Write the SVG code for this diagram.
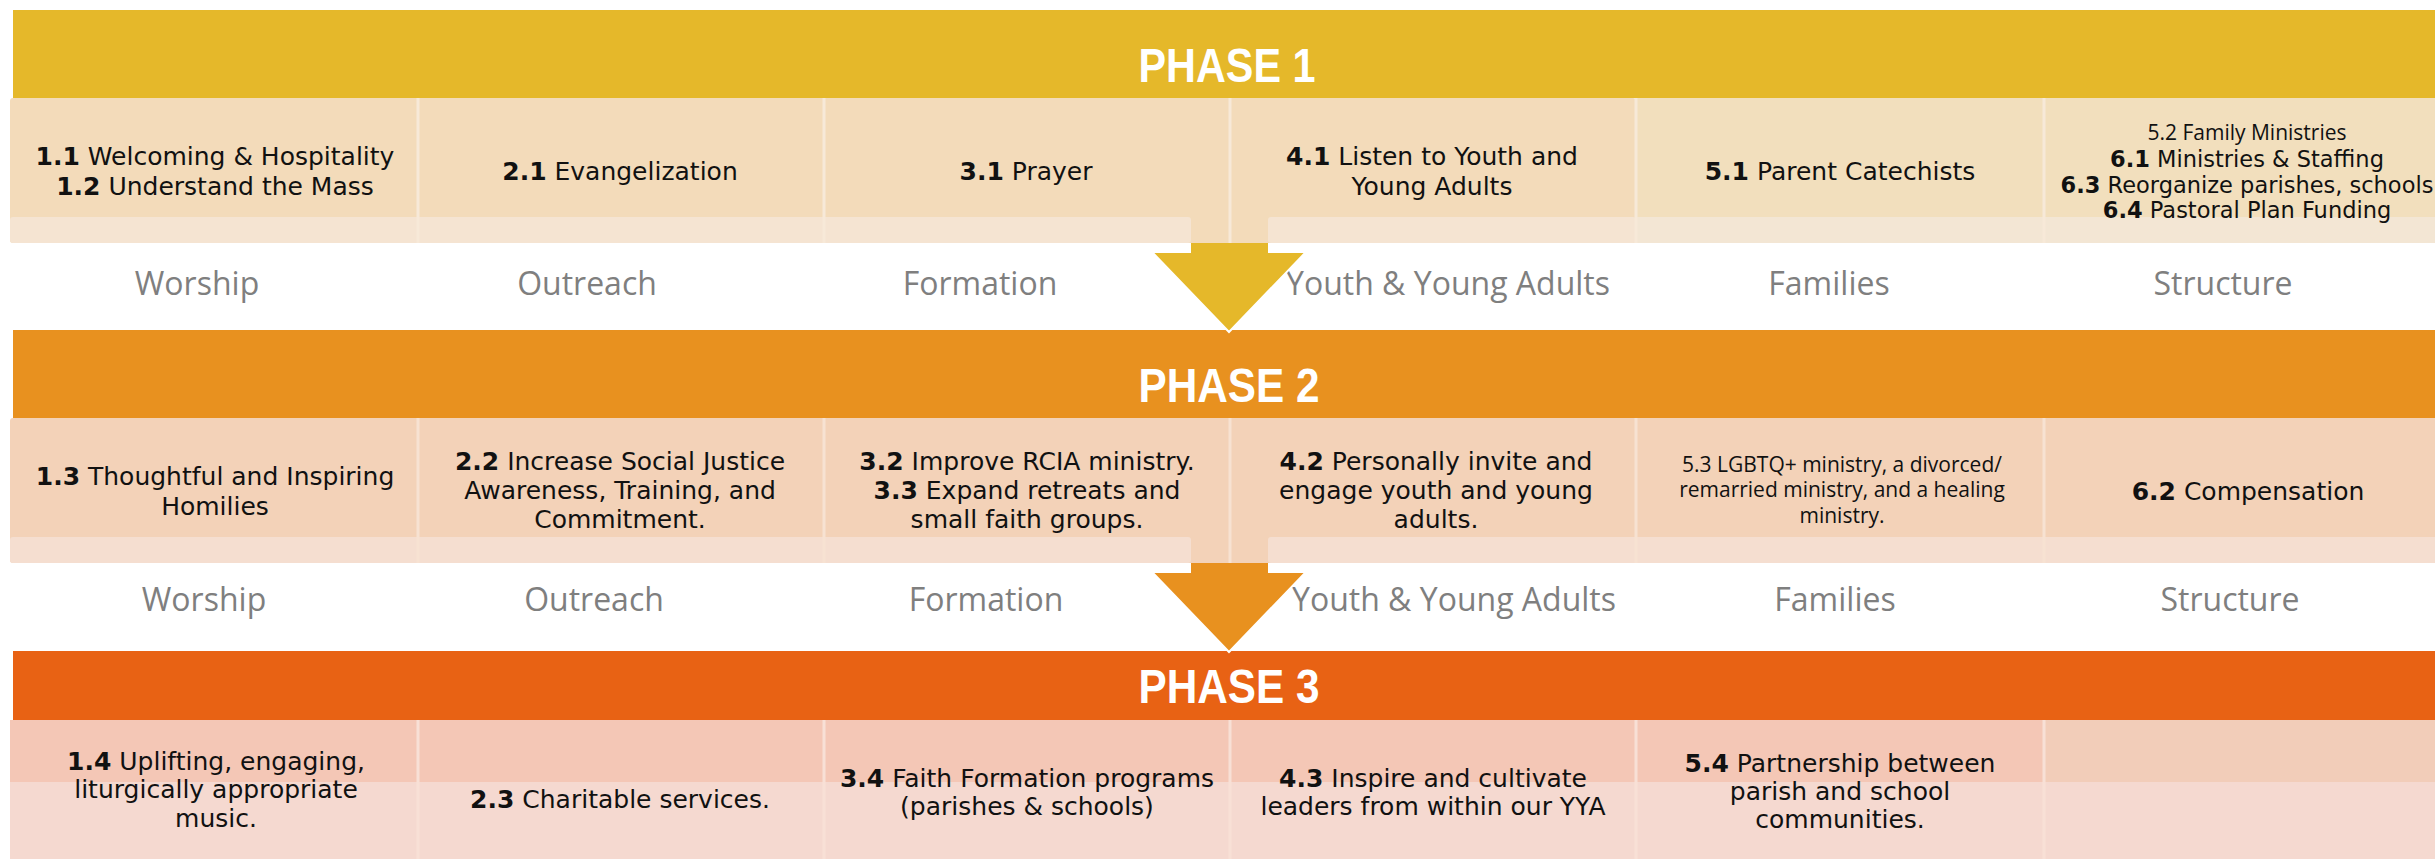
<svg xmlns="http://www.w3.org/2000/svg" width="2435" height="859" viewBox="0 0 2435 859">
<style>
.t{font-family:"DejaVu Sans",sans-serif;font-size:25px;fill:#111;text-anchor:middle}
.s{font-family:"DejaVu Sans",sans-serif;font-size:22.5px;fill:#111;text-anchor:middle}
.o{font-family:"Open Sans",sans-serif;font-size:21px;fill:#111;text-anchor:middle}
.b{font-weight:bold}
.cat{font-family:"Open Sans",sans-serif;font-size:32px;fill:#7f7f7f;text-anchor:middle}
.ph{font-family:"Liberation Sans",sans-serif;font-weight:bold;font-size:48px;fill:#fff;text-anchor:middle}
.div{stroke-width:3}
</style>
<rect width="2435" height="859" fill="#fff"/>

<!-- PHASE 1 -->
<g id="phase1">
  <rect x="13" y="10" width="2440" height="88" fill="#E5B82A"/>
  <text class="ph" x="1227" y="82" textLength="177" lengthAdjust="spacingAndGlyphs">PHASE 1</text>
</g>
<g id="phase1-cells">
  <rect x="10" y="98" width="1626" height="145" rx="3" fill="#F3DBBA"/>
  <rect x="1636" y="98" width="820" height="145" fill="#F2DFBD"/>
  <rect x="10" y="217" width="1181" height="26" rx="3" fill="#F5E4D2"/>
  <rect x="1268" y="217" width="368" height="26" rx="3" fill="#F5E4D2"/>
  <rect x="1636" y="217" width="820" height="26" fill="#F3E6D4"/>
  <g stroke="#F7E9D8" class="div">
    <line x1="418" y1="98" x2="418" y2="243"/><line x1="824" y1="98" x2="824" y2="243"/>
    <line x1="1230" y1="98" x2="1230" y2="243"/><line x1="1636" y1="98" x2="1636" y2="243"/>
    <line x1="2044" y1="98" x2="2044" y2="243"/>
  </g>
</g>
<g id="p1-worship"><text class="t" x="215" y="165"><tspan class="b">1.1</tspan> Welcoming &amp; Hospitality</text><text class="t" x="215" y="195"><tspan class="b">1.2</tspan> Understand the Mass</text></g>
<g id="p1-outreach"><text class="t" x="620" y="180"><tspan class="b">2.1</tspan> Evangelization</text></g>
<g id="p1-formation"><text class="t" x="1026" y="180"><tspan class="b">3.1</tspan> Prayer</text></g>
<g id="p1-youth"><text class="t" x="1432" y="165"><tspan class="b">4.1</tspan> Listen to Youth and</text><text class="t" x="1432" y="195">Young Adults</text></g>
<g id="p1-families"><text class="t" x="1840" y="180"><tspan class="b">5.1</tspan> Parent Catechists</text></g>
<g id="p1-structure">
  <text class="o" x="2247" y="140">5.2 Family Ministries</text>
  <text class="s" x="2247" y="167"><tspan class="b">6.1</tspan> Ministries &amp; Staffing</text>
  <text class="s" x="2247" y="193"><tspan class="b">6.3</tspan> Reorganize parishes, schools</text>
  <text class="s" x="2247" y="218"><tspan class="b">6.4</tspan> Pastoral Plan Funding</text>
</g>
<g id="p1-labels">
  <text class="cat" x="197" y="295">Worship</text>
  <text class="cat" x="587" y="295">Outreach</text>
  <text class="cat" x="980" y="295">Formation</text>
  <text class="cat" x="1448" y="295">Youth &amp; Young Adults</text>
  <text class="cat" x="1829" y="295">Families</text>
  <text class="cat" x="2223" y="295">Structure</text>
</g>

<!-- PHASE 2 -->
<g id="phase2">
  <rect x="13" y="330" width="2440" height="88" fill="#E8911F"/>
  <text class="ph" x="1229" y="402" textLength="181" lengthAdjust="spacingAndGlyphs">PHASE 2</text>
</g>
<g id="phase2-cells">
  <rect x="10" y="418" width="2446" height="145" rx="3" fill="#F3D2B8"/>
  <rect x="10" y="537" width="1181" height="26" rx="3" fill="#F5DED0"/>
  <rect x="1268" y="537" width="1190" height="26" rx="3" fill="#F5DED0"/>
  <g stroke="#F7E2D2" class="div">
    <line x1="418" y1="418" x2="418" y2="563"/><line x1="824" y1="418" x2="824" y2="563"/>
    <line x1="1230" y1="418" x2="1230" y2="563"/><line x1="1636" y1="418" x2="1636" y2="563"/>
    <line x1="2044" y1="418" x2="2044" y2="563"/>
  </g>
</g>
<g id="p2-worship"><text class="t" x="215" y="485"><tspan class="b">1.3</tspan> Thoughtful and Inspiring</text><text class="t" x="215" y="515">Homilies</text></g>
<g id="p2-outreach"><text class="t" x="620" y="470"><tspan class="b">2.2</tspan> Increase Social Justice</text><text class="t" x="620" y="499">Awareness, Training, and</text><text class="t" x="620" y="528">Commitment.</text></g>
<g id="p2-formation"><text class="t" x="1027" y="470"><tspan class="b">3.2</tspan> Improve RCIA ministry.</text><text class="t" x="1027" y="499"><tspan class="b">3.3</tspan> Expand retreats and</text><text class="t" x="1027" y="528">small faith groups.</text></g>
<g id="p2-youth"><text class="t" x="1436" y="470"><tspan class="b">4.2</tspan> Personally invite and</text><text class="t" x="1436" y="499">engage youth and young</text><text class="t" x="1436" y="528">adults.</text></g>
<g id="p2-families"><text class="o" x="1842" y="472">5.3 LGBTQ+ ministry, a divorced/</text><text class="o" x="1842" y="497">remarried ministry, and a healing</text><text class="o" x="1842" y="523">ministry.</text></g>
<g id="p2-structure"><text class="t" x="2248" y="500"><tspan class="b">6.2</tspan> Compensation</text></g>
<g id="p2-labels">
  <text class="cat" x="204" y="611">Worship</text>
  <text class="cat" x="594" y="611">Outreach</text>
  <text class="cat" x="986" y="611">Formation</text>
  <text class="cat" x="1454" y="611">Youth &amp; Young Adults</text>
  <text class="cat" x="1835" y="611">Families</text>
  <text class="cat" x="2230" y="611">Structure</text>
</g>

<!-- PHASE 3 -->
<g id="phase3">
  <rect x="13" y="651" width="2440" height="69" fill="#E86214"/>
  <text class="ph" x="1229" y="703" textLength="181" lengthAdjust="spacingAndGlyphs">PHASE 3</text>
</g>
<g id="phase3-cells">
  <rect x="10" y="720" width="2446" height="145" fill="#F5D9D0"/>
  <rect x="10" y="720" width="2034" height="62" fill="#F4C7B6"/>
  <rect x="2044" y="720" width="412" height="62" fill="#F2CDB9"/>
  <g stroke="#F8E0D6" class="div">
    <line x1="418" y1="720" x2="418" y2="859"/><line x1="824" y1="720" x2="824" y2="859"/>
    <line x1="1230" y1="720" x2="1230" y2="859"/><line x1="1636" y1="720" x2="1636" y2="859"/>
    <line x1="2044" y1="720" x2="2044" y2="859"/>
  </g>
</g>
<g id="p3-worship"><text class="t" x="216" y="770"><tspan class="b">1.4</tspan>  Uplifting, engaging,</text><text class="t" x="216" y="798">liturgically appropriate</text><text class="t" x="216" y="827">music.</text></g>
<g id="p3-outreach"><text class="t" x="620" y="808"><tspan class="b">2.3</tspan> Charitable services.</text></g>
<g id="p3-formation"><text class="t" x="1027" y="787"><tspan class="b">3.4</tspan> Faith Formation programs</text><text class="t" x="1027" y="815">(parishes &amp; schools)</text></g>
<g id="p3-youth"><text class="t" x="1433" y="787"><tspan class="b">4.3</tspan> Inspire and cultivate</text><text class="t" x="1433" y="815">leaders from within our YYA</text></g>
<g id="p3-families"><text class="t" x="1840" y="772"><tspan class="b">5.4</tspan> Partnership between</text><text class="t" x="1840" y="800">parish and school</text><text class="t" x="1840" y="828">communities.</text></g>

<!-- connectors -->
<g id="connectors">
  <polygon points="1191,243 1268,243 1268,253 1305,253 1229,332 1153,253 1191,253" fill="#E5B82A"/>
  <polyline points="1153,253 1229,332 1305,253" fill="none" stroke="#fff" stroke-width="2"/>
  <polygon points="1191,563 1268,563 1268,573 1305,573 1229,652 1153,573 1191,573" fill="#E8911F"/>
  <polyline points="1153,573 1229,652 1305,573" fill="none" stroke="#fff" stroke-width="2"/>
</g>
</svg>
